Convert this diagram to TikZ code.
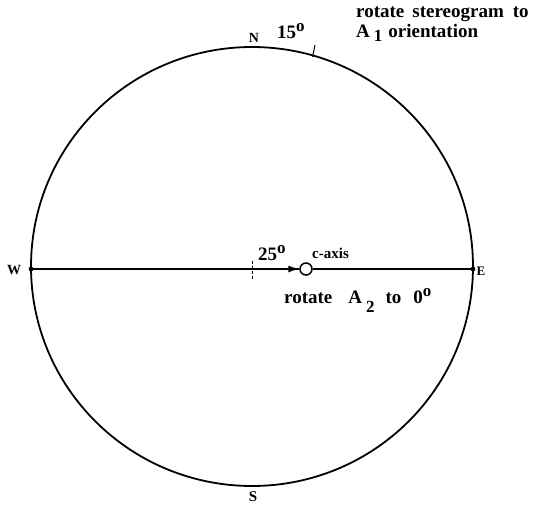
\documentclass[tikz,border=0pt]{standalone}
\usepackage{fontspec}
\setmainfont{Liberation Serif}
\usetikzlibrary{arrows.meta}
\newcommand{\dgr}{\raisebox{7pt}{\fontsize{17}{17}\selectfont\bfseries o}}
\newcommand{\sbs}[2]{\raisebox{#1}{\fontsize{17}{17}\selectfont\bfseries #2}}
\begin{document}
\begin{tikzpicture}[x=1pt,y=-1pt,
  lbl/.style={font=\bfseries\fontsize{19}{21}\selectfont, inner sep=0pt, anchor=base west},
  dirlbl/.style={font=\bfseries\fontsize{14}{14}\selectfont, inner sep=0pt}]
\useasboundingbox (0,0) rectangle (551,506);
\coordinate (O) at (252,266.5);
\draw[line width=1.8pt] (O) ellipse (221 and 219.5);
\coordinate (W) at (31,269);
\coordinate (E) at (473,269);
\fill (W) circle (2.4);
\fill (E) circle (2.4);
\node[dirlbl] (wl) at (14,270) {W};
\node[dirlbl, font=\bfseries\fontsize{13}{13}\selectfont] (el) at (481,271) {E};
\node[dirlbl] (nl) at (254,38) {N};
\node[dirlbl, font=\bfseries\fontsize{15}{15}\selectfont] (sl) at (253,497) {S};
% 15 degree tick
\coordinate (t1) at (315,45);
\coordinate (t2) at (312.5,57);
\draw[line width=1pt] (t1) -- (t2);
\node[lbl] (d15) at (277,38) {15\dgr};
\node[lbl] (r1) at (356,17) {rotate\hspace{8pt}stereogram\hspace{9pt}to};
\node[lbl] (r2) at (356,37) {A\hspace{4pt}\sbs{-4pt}{1}\hspace{6pt}orientation};
% main line
\node[draw, circle, line width=1.5pt, minimum size=12pt, inner sep=0pt] (c) at (306,269) {};
\coordinate (ctr) at (252,269);
\draw[line width=1.1pt] (W) -- (c.west);
\draw[line width=1.1pt] (c.east) -- (E);
\coordinate (tk1) at (252,261);
\coordinate (tk2) at (252,279);
\draw[line width=0.9pt, dash pattern=on 3pt off 2pt] (tk1) -- (tk2);
\draw[line width=1.5pt, -{Latex[length=11pt,width=7pt]}] (ctr) -- (c.west);
\node[lbl] (d25) at (258,260) {25\dgr};
\node[lbl, font=\bfseries\fontsize{15}{16}\selectfont] (cax) at (312,258) {c-axis};
\node[lbl] (r3) at (284,303) {rotate\hspace{16pt}A\hspace{4pt}\sbs{-9pt}{2}\hspace{11pt}to\hspace{12pt}0\dgr};
\end{tikzpicture}
\end{document}
